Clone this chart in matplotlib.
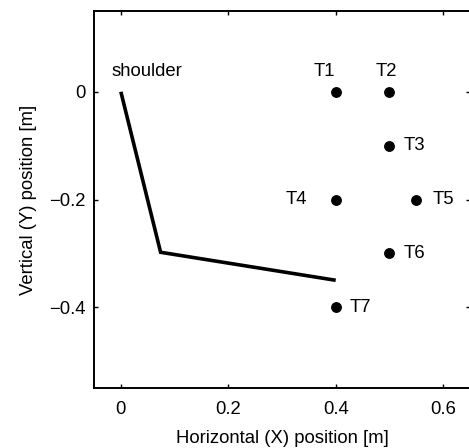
import matplotlib
matplotlib.use("Agg")
import matplotlib.pyplot as plt

plt.rcParams['font.family'] = ['Liberation Sans', 'DejaVu Sans']

# Arm (shoulder -> elbow -> hand)
arm_x = [0.0, 0.074, 0.4]
arm_y = [0.0, -0.298, -0.35]

# Targets
target_names = ["T1", "T2", "T3", "T4", "T5", "T6", "T7"]
target_x = [0.4, 0.5, 0.5, 0.4, 0.55, 0.5, 0.4]
target_y = [0.0, 0.0, -0.1, -0.2, -0.2, -0.3, -0.4]
# label offsets in pixels (dx, dy) and horizontal alignment
label_offsets = [(-11, 20, 'center'), (-3, 20, 'center'), (14, 0, 'left'),
                 (-29, 0, 'right'), (16, 0, 'left'), (14, 0, 'left'), (14, 0, 'left')]

xticks = [0, 0.2, 0.4, 0.6]
yticks = [0, -0.2, -0.4]

FS = 13.3
W, H = 469, 448
fig = plt.figure(figsize=(W / 100, H / 100), dpi=100)
left, right, top, bottom = 94, 470, 11, 388
ax = fig.add_axes([left / W, 1 - bottom / H, (right - left) / W, (bottom - top) / H])

ax.plot(arm_x, arm_y, color='black', lw=2.6, solid_capstyle='butt', solid_joinstyle='miter')
ax.plot(target_x, target_y, 'o', color='black', ms=6.8, ls='none')

for name, x, y, (dx, dy, ha) in zip(target_names, target_x, target_y, label_offsets):
    ax.annotate(name, (x, y), xytext=(dx * 0.72, dy * 0.72), textcoords='offset points',
                ha=ha, va='center', fontsize=FS)

ax.annotate("shoulder", (0, 0), xytext=(26 * 0.72, 20 * 0.72), textcoords='offset points',
            ha='center', va='center', fontsize=FS)

ax.set_xlim(-0.05, 0.65)
ax.set_ylim(-0.55, 0.15)
ax.set_xticks(xticks)
ax.set_xticklabels(["0", "0.2", "0.4", "0.6"])
ax.set_yticks(yticks)
ax.set_yticklabels(["0", "\u22120.2", "\u22120.4"])
ax.tick_params(direction='in', top=True, right=True, length=3, width=1, labelsize=FS)
ax.tick_params(axis='x', pad=9)
ax.tick_params(axis='y', pad=6)
for s in ax.spines.values():
    s.set_linewidth(1.4)

ax.set_xlabel("Horizontal (X) position [m]", fontsize=FS, labelpad=9)
ax.set_ylabel("Vertical (Y) position [m]", fontsize=FS, labelpad=9)

fig.savefig("out.png", dpi=100)
